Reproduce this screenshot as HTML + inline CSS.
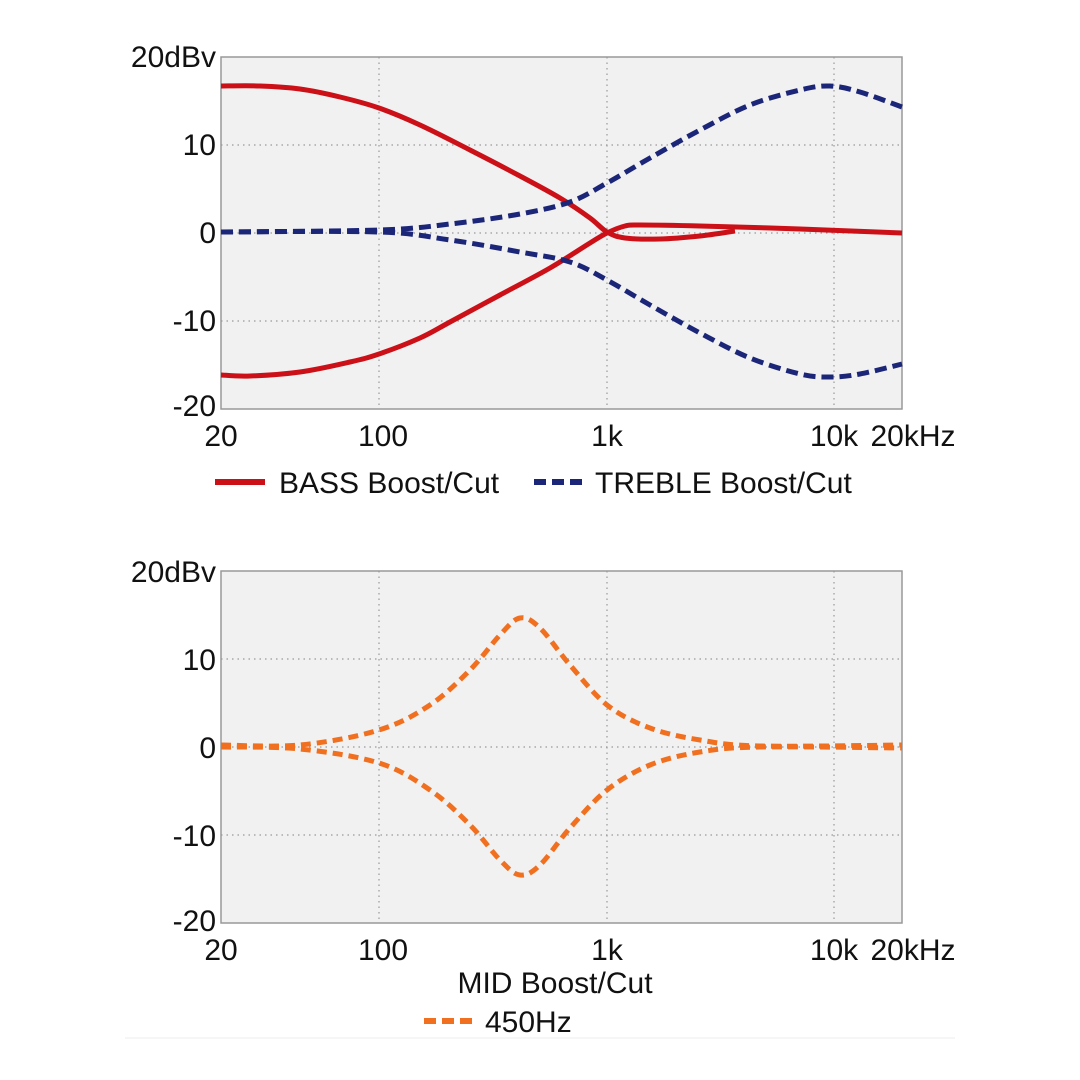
<!DOCTYPE html>
<html><head><meta charset="utf-8"><style>
html,body{margin:0;padding:0;background:#fff;}
svg{display:block;}
text{font-family:"Liberation Sans",sans-serif;font-size:30px;fill:#111;}
</style></head><body>
<svg id="s" width="1080" height="1080" viewBox="0 0 1080 1080" xmlns="http://www.w3.org/2000/svg">
<rect x="0" y="0" width="1080" height="1080" fill="#fff"/>
<line x1="125" y1="1038" x2="955" y2="1038" stroke="#eee" stroke-width="1"/>
<rect x="221" y="57" width="681" height="352" fill="#f1f1f1" stroke="#999" stroke-width="1.5"/>
<g stroke="#999" stroke-width="1.2" stroke-dasharray="1.5,4">
<line x1="221" y1="145" x2="902" y2="145"/><line x1="221" y1="233" x2="902" y2="233"/><line x1="221" y1="321" x2="902" y2="321"/>
<line x1="379" y1="57" x2="379" y2="409"/><line x1="607" y1="57" x2="607" y2="409"/><line x1="834" y1="57" x2="834" y2="409"/>
</g>
<g text-anchor="end">
<text x="216" y="67">20dBv</text><text x="216" y="155">10</text><text x="216" y="243">0</text><text x="216" y="331">-10</text><text x="216" y="416">-20</text>
</g>
<g text-anchor="middle">
<text x="221" y="446">20</text><text x="383" y="446">100</text><text x="607" y="446">1k</text><text x="834" y="446">10k</text><text x="913" y="446">20kHz</text>
</g>
<line x1="215" y1="482" x2="265" y2="482" stroke="#cc1018" stroke-width="6"/>
<text x="279" y="493">BASS Boost/Cut</text>
<line x1="534" y1="482" x2="582" y2="482" stroke="#1c2678" stroke-width="6" stroke-dasharray="12,6"/>
<text x="595" y="493">TREBLE Boost/Cut</text>
<rect x="221" y="571" width="681" height="352" fill="#f1f1f1" stroke="#999" stroke-width="1.5"/>
<g stroke="#999" stroke-width="1.2" stroke-dasharray="1.5,4">
<line x1="221" y1="659" x2="902" y2="659"/><line x1="221" y1="747" x2="902" y2="747"/><line x1="221" y1="835" x2="902" y2="835"/>
<line x1="379" y1="571" x2="379" y2="923"/><line x1="607" y1="571" x2="607" y2="923"/><line x1="834" y1="571" x2="834" y2="923"/>
</g>
<g text-anchor="end">
<text x="216" y="582">20dBv</text><text x="216" y="670">10</text><text x="216" y="758">0</text><text x="216" y="846">-10</text><text x="216" y="931">-20</text>
</g>
<g text-anchor="middle">
<text x="221" y="960">20</text><text x="383" y="960">100</text><text x="607" y="960">1k</text><text x="834" y="960">10k</text><text x="913" y="960">20kHz</text>
<text x="555" y="993">MID Boost/Cut</text>
</g>
<line x1="424" y1="1021" x2="472" y2="1021" stroke="#f07020" stroke-width="6" stroke-dasharray="12,6"/>
<text x="485" y="1032">450Hz</text>
<g id="curves" fill="none" stroke-linecap="butt" stroke-linejoin="round"></g>
</svg>
<script>
function cr(p){var d="M"+p[0][0]+","+p[0][1];for(var i=0;i<p.length-1;i++){var a=p[i-1]||p[i],b=p[i],c=p[i+1],e=p[i+2]||c;
d+=" C"+(b[0]+(c[0]-a[0])/6).toFixed(1)+","+(b[1]+(c[1]-a[1])/6).toFixed(1)+" "+(c[0]-(e[0]-b[0])/6).toFixed(1)+","+(c[1]-(e[1]-b[1])/6).toFixed(1)+" "+c[0]+","+c[1];}return d;}
var S=[
["#cc1018","",[[221,86],[260,86],[300,89],[340,97],[379,108],[420,125],[470,150],[520,176],[560,198],[590,218],[607,232],[625,238],[660,239],[700,236],[735,231]]],
["#cc1018","",[[221,375],[250,376],[300,372],[350,362],[379,354],[420,338],[450,322],[500,295],[550,268],[590,243],[607,233],[625,226],[640,225],[700,226],[800,229],[902,233]]],
["#1c2678","12,6",[[221,232],[379,230],[450,224],[520,214],[570,202],[607,183],[650,158],[700,130],[750,105],[800,90],[830,86],[860,92],[902,107]]],
["#1c2678","12,6",[[221,232],[379,232],[450,240],[520,252],[570,262],[607,280],[650,305],[700,333],[750,358],[800,374],[830,377],[860,374],[902,364]]],
["#f07020","10,6",[[221,745],[300,745],[379,730],[430,705],[470,670],[500,635],[520,618],[540,628],[570,665],[607,705],[650,728],[700,740],[760,746],[902,745]]],
["#f07020","10,6",[[221,747],[300,749],[379,763],[430,790],[470,825],[500,860],[520,875],[540,865],[570,828],[607,790],[650,765],[700,752],[760,747],[902,748]]]
];
var g=document.getElementById("curves");
S.forEach(function(s){var p=document.createElementNS("http://www.w3.org/2000/svg","path");p.setAttribute("d",cr(s[2]));p.setAttribute("stroke",s[0]);p.setAttribute("stroke-width","5");if(s[1])p.setAttribute("stroke-dasharray",s[1]);g.appendChild(p);});
</script>
</body></html>
